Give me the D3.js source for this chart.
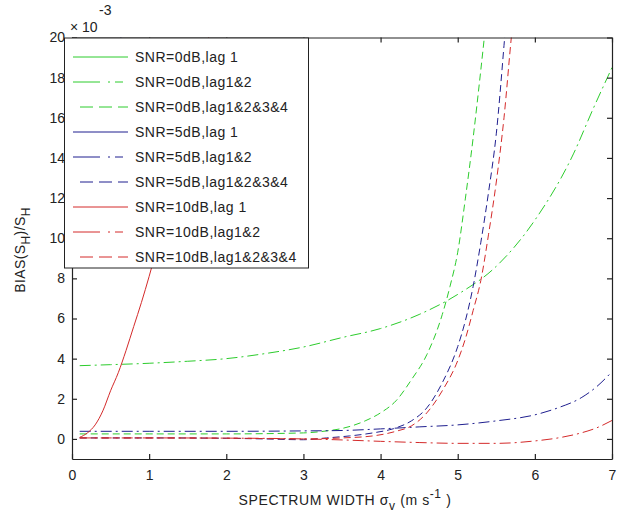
<!DOCTYPE html>
<html>
<head>
<meta charset="utf-8">
<script src="https://cdn.jsdelivr.net/npm/d3@7"></script>
<style>
  body { margin: 0; background: #fff; }
  svg text { font-family: "Liberation Sans", Arial, sans-serif; fill: #222; }
</style>
</head>
<body>
<svg id="chart" width="635" height="516"></svg>
<script>
// Tick values (y in units of 1e-3)
const xTicks = [0, 1, 2, 3, 4, 5, 6, 7];
const yTicks = [0, 2, 4, 6, 8, 10, 12, 14, 16, 18, 20];

// Series: [spectrum width, bias x 1e3]
const snr0Lag1 = [[0.1, 22.5], [1, 24], [2, 26], [3, 29], [4, 33], [5, 38], [6, 44], [7, 50]];
const snr0Lag12 = [[0.1, 3.65], [0.5, 3.7], [1, 3.77], [1.5, 3.87], [2, 4.0], [2.5, 4.25], [3, 4.58],
  [3.5, 5.05], [4, 5.5], [4.5, 6.2], [5, 7.2], [5.5, 8.6], [6, 10.9], [6.5, 14.2], [6.75, 16.4], [7, 18.5]];
const snr0Lag1234 = [[0.1, 0.25], [1, 0.25], [2, 0.25], [3, 0.3], [3.3, 0.4], [3.5, 0.52], [3.8, 0.9],
  [4, 1.3], [4.2, 1.9], [4.4, 2.95], [4.6, 4.2], [4.8, 6.2], [4.9, 7.6], [5, 9.3], [5.1, 12.0],
  [5.2, 15.0], [5.3, 18.4], [5.4, 22]];
const snr5Lag1 = [[0.1, 9.5], [0.3, 13], [0.5, 17], [0.7, 21.5], [1, 28]];
const snr5Lag12 = [[0.1, 0.38], [1, 0.38], [2, 0.38], [3, 0.4], [3.5, 0.42], [4, 0.5], [4.5, 0.6],
  [5, 0.7], [5.5, 0.9], [6, 1.2], [6.3, 1.55], [6.6, 2.05], [6.8, 2.6], [7, 3.35]];
const snr5Lag1234 = [[0.1, 0.05], [1, 0.05], [2, 0.03], [2.5, 0.0], [3, -0.04], [3.3, 0.05], [3.6, 0.15],
  [3.9, 0.3], [4.2, 0.55], [4.4, 0.9], [4.6, 1.55], [4.8, 2.8], [5, 4.6], [5.1, 5.9], [5.2, 7.6],
  [5.3, 9.8], [5.4, 12.3], [5.5, 15.2], [5.6, 19.6], [5.65, 22]];
const snr10Lag1 = [[0.1, 0.08], [0.2, 0.3], [0.3, 0.7], [0.4, 1.4], [0.5, 2.4], [0.6, 3.3], [0.7, 4.4],
  [0.8, 5.6], [0.9, 6.8], [1.0, 8.1], [1.1, 9.5], [1.3, 12.4], [1.5, 15.5], [1.7, 18.8], [1.8, 20.5]];
const snr10Lag12 = [[0.1, 0.05], [1, 0.05], [2, 0.04], [3, 0.0], [3.5, -0.05], [4, -0.12], [4.5, -0.18],
  [5, -0.22], [5.5, -0.22], [6, -0.1], [6.3, 0.05], [6.6, 0.3], [6.8, 0.55], [7, 0.92]];
const snr10Lag1234 = [[0.1, 0.05], [1, 0.05], [2, 0.04], [3, 0.0], [3.5, 0.05], [3.9, 0.15], [4.2, 0.38],
  [4.4, 0.65], [4.6, 1.3], [4.8, 2.4], [5, 3.9], [5.1, 5.0], [5.2, 6.4], [5.3, 7.9], [5.4, 10.2],
  [5.5, 12.8], [5.6, 16.0], [5.7, 20.2], [5.75, 22]];

const seriesNames = [
  "SNR=0dB,lag 1", "SNR=0dB,lag1&2", "SNR=0dB,lag1&2&3&4",
  "SNR=5dB,lag 1", "SNR=5dB,lag1&2", "SNR=5dB,lag1&2&3&4",
  "SNR=10dB,lag 1", "SNR=10dB,lag1&2", "SNR=10dB,lag1&2&3&4"
];
const seriesData = [snr0Lag1, snr0Lag12, snr0Lag1234, snr5Lag1, snr5Lag12, snr5Lag1234,
  snr10Lag1, snr10Lag12, snr10Lag1234];

// styles
const green = "#2ccc2c", blue = "#1f1f8f", red = "#d42a2a";
const colors = [green, green, green, blue, blue, blue, red, red, red];
const dashes = [null, "11,4,2,4", "7,4"];

const svg = d3.select("#chart");
const margin = { top: 37.5, right: 23, bottom: 57, left: 72 };
const W = 635, H = 516;

const x = d3.scaleLinear().domain([0, 7]).range([margin.left, W - margin.right]);
const y = d3.scaleLinear().domain([-1, 20]).range([H - margin.bottom, margin.top]);

svg.append("clipPath").attr("id", "plot-clip")
  .append("rect")
  .attr("x", x(0)).attr("y", y(20))
  .attr("width", x(7) - x(0)).attr("height", y(-1) - y(20));

const line = d3.line()
  .x(d => x(d[0]))
  .y(d => y(d[1]))
  .curve(d3.curveMonotoneX);

const lines = svg.append("g").attr("clip-path", "url(#plot-clip)");
seriesData.forEach((s, i) => {
  lines.append("path")
    .datum(s)
    .attr("d", line)
    .attr("fill", "none")
    .attr("stroke", colors[i])
    .attr("stroke-width", 1)
    .attr("stroke-dasharray", dashes[i % 3]);
});

// Axes, ticks pointing inward
function styleAxis(g) {
  g.select(".domain").attr("stroke", "#222").attr("stroke-width", 1.2);
  g.selectAll(".tick line").attr("stroke", "#222").attr("stroke-width", 1.2);
  g.selectAll(".tick text").attr("font-size", 14).attr("fill", "#222")
    .attr("font-family", '"Liberation Sans", Arial, sans-serif');
}

svg.append("g")
  .attr("transform", `translate(0,${y(-1)})`)
  .call(d3.axisBottom(x).tickValues(xTicks).tickFormat(d3.format("d")).tickSize(-5).tickPadding(11).tickSizeOuter(0))
  .call(styleAxis);
svg.append("g")
  .attr("transform", `translate(0,${y(20)})`)
  .call(d3.axisTop(x).tickValues(xTicks).tickFormat("").tickSize(-5).tickSizeOuter(0))
  .call(styleAxis);
svg.append("g")
  .attr("transform", `translate(${x(0)},0)`)
  .call(d3.axisLeft(y).tickValues(yTicks).tickFormat(d3.format("d")).tickSize(-5).tickPadding(7).tickSizeOuter(0))
  .call(styleAxis);
svg.append("g")
  .attr("transform", `translate(${x(7)},0)`)
  .call(d3.axisRight(y).tickValues(yTicks).tickFormat("").tickSize(-5).tickSizeOuter(0))
  .call(styleAxis);

// exponent
svg.append("text").attr("x", 70).attr("y", 32).attr("font-size", 14).text("\u00d7 10");
svg.append("text").attr("x", 99).attr("y", 15).attr("font-size", 14).text("-3");

// axis labels
const xl = svg.append("text")
  .attr("x", 345).attr("y", 505)
  .attr("text-anchor", "middle")
  .attr("font-size", 14)
  .attr("letter-spacing", 0.6);
xl.append("tspan").text("SPECTRUM WIDTH \u03c3");
xl.append("tspan").attr("dy", 5).attr("font-size", 12).text("v");
xl.append("tspan").attr("dy", -5).text(" (m s");
xl.append("tspan").attr("dy", -7).attr("font-size", 12).text("-1");
xl.append("tspan").attr("dy", 7).text(" )");

const yl = svg.append("text")
  .attr("transform", `translate(25,250) rotate(-90)`)
  .attr("text-anchor", "middle")
  .attr("font-size", 14)
  .attr("letter-spacing", 0.4);
yl.append("tspan").text("BIAS(S");
yl.append("tspan").attr("dy", 5).attr("font-size", 12).text("H");
yl.append("tspan").attr("dy", -5).text(")/S");
yl.append("tspan").attr("dy", 5).attr("font-size", 12).text("H");

// legend
const legend = svg.append("g");
legend.append("rect")
  .attr("x", 64.5).attr("y", 38)
  .attr("width", 244).attr("height", 230)
  .attr("fill", "#fff").attr("stroke", "#222").attr("stroke-width", 1);

seriesNames.forEach((name, i) => {
  const ly = 57 + i * 25;
  legend.append("line")
    .attr("x1", i % 3 === 2 ? 80 : 73).attr("x2", i % 3 === 1 ? 123 : 128)
    .attr("y1", ly).attr("y2", ly)
    .attr("stroke", colors[i])
    .attr("stroke-width", 1)
    .attr("stroke-dasharray", i % 3 === 1 ? "27,8,2,5" : (i % 3 === 2 ? "13,6" : null));
  legend.append("text")
    .attr("x", 135).attr("y", ly + 5)
    .attr("font-size", 14)
    .attr("letter-spacing", 0.5)
    .text(name);
});
</script>
</body>
</html>
